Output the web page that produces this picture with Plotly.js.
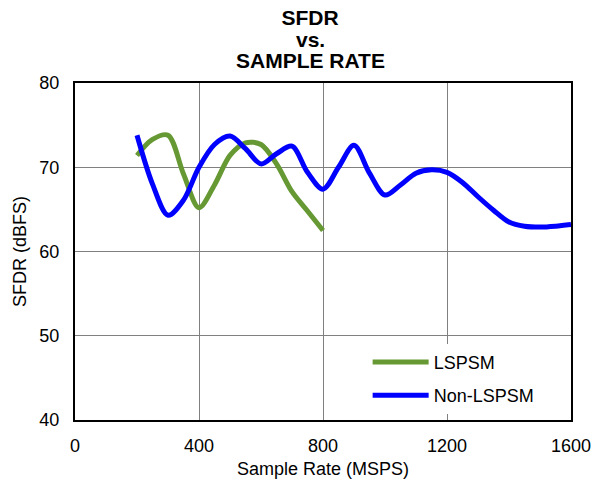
<!DOCTYPE html>
<html>
<head>
<meta charset="utf-8">
<script src="https://cdn.plot.ly/plotly-3.0.1.min.js"></script>
<style>html,body{margin:0;padding:0;background:#fff;}#chart{width:592px;height:483px;}</style>
</head>
<body>
<div id="chart"></div>
<script>
var lspsmX = [200, 250, 300, 350, 400, 450, 500, 550, 600, 650, 700, 750, 800];
var lspsmY = [71.4, 73.3, 73.8, 69.2, 65.2, 67.9, 71.4, 72.9, 72.7, 70.4, 67.1, 64.8, 62.5];

var nonLspsmX = [200, 250, 300, 350, 400, 450, 500, 550, 600, 650, 700, 750, 800, 850, 900, 950,
                 1000, 1050, 1100, 1150, 1200, 1250, 1300, 1350, 1400, 1450, 1500, 1550, 1600];
var nonLspsmY = [73.8, 68.0, 64.3, 66.1, 70.0, 72.7, 73.7, 72.2, 70.4, 71.6, 72.5, 69.4, 67.4, 70.0, 72.6, 69.3,
                 66.7, 67.9, 69.3, 69.7, 69.4, 68.2, 66.5, 64.9, 63.5, 63.0, 62.9, 63.0, 63.2];

var xTicks = [0, 400, 800, 1200, 1600];
var yTicks = [40, 50, 60, 70, 80];

var FONT = 'Liberation Sans, Arial, sans-serif';
var TITLE_FONT = {family: FONT, size: 21, color: '#000'};

var traces = [
  {x: lspsmX, y: lspsmY, name: 'LSPSM', mode: 'lines', legendgroup: 'a',
   line: {color: '#669933', width: 5, shape: 'spline', smoothing: 0.9}},
  {x: nonLspsmX, y: nonLspsmY, name: 'Non-LSPSM', mode: 'lines', legendgroup: 'b',
   line: {color: '#0000ff', width: 5, shape: 'spline', smoothing: 0.9}}
];

var layout = {
  width: 592, height: 483,
  margin: {l: 75, r: 21, t: 83, b: 63},
  paper_bgcolor: '#ffffff', plot_bgcolor: '#ffffff',
  font: {family: FONT, size: 18, color: '#000'},
  showlegend: true,
  title: {text: '<b>SFDR</b>', font: TITLE_FONT,
          x: 0.474, xref: 'paper', xanchor: 'center', y: 0.978, yref: 'container', yanchor: 'top'},
  annotations: [
    {text: '<b>vs.</b>', xref: 'paper', yref: 'paper', x: 0.474, y: 1.1276, xanchor: 'center', yanchor: 'middle',
     showarrow: false, font: TITLE_FONT},
    {text: '<b>SAMPLE RATE</b>', xref: 'paper', yref: 'paper', x: 0.474, y: 1.066, xanchor: 'center', yanchor: 'middle',
     showarrow: false, font: TITLE_FONT}
  ],
  xaxis: {
    range: [0, 1600], tickvals: xTicks, ticktext: xTicks.map(String),
    showgrid: true, gridcolor: '#808080', gridwidth: 1,
    showline: true, linecolor: '#000', linewidth: 2, mirror: true,
    ticks: '', zeroline: false, ticklabelstandoff: 8,
    tickfont: {family: FONT, size: 18, color: '#000'},
    title: {text: 'Sample Rate (MSPS)', font: {family: FONT, size: 18, color: '#000'}, standoff: 8}
  },
  yaxis: {
    range: [40, 80], tickvals: yTicks, ticktext: yTicks.map(String),
    showgrid: true, gridcolor: '#808080', gridwidth: 1,
    showline: true, linecolor: '#000', linewidth: 2, mirror: true,
    ticks: '', zeroline: false, ticklabelstandoff: 10,
    tickfont: {family: FONT, size: 18, color: '#000'},
    title: {text: 'SFDR (dBFS)', font: {family: FONT, size: 18, color: '#000'}, standoff: 8}
  },
  legend: {
    x: 0.59, y: 0.2264, xanchor: 'left', yanchor: 'top',
    bgcolor: '#ffffff', borderwidth: 0,
    font: {family: FONT, size: 18, color: '#000'},
    traceorder: 'grouped', tracegroupgap: 7, itemwidth: 56
  }
};

Plotly.newPlot('chart', traces, layout, {displayModeBar: false, staticPlot: true});
</script>
</body>
</html>
